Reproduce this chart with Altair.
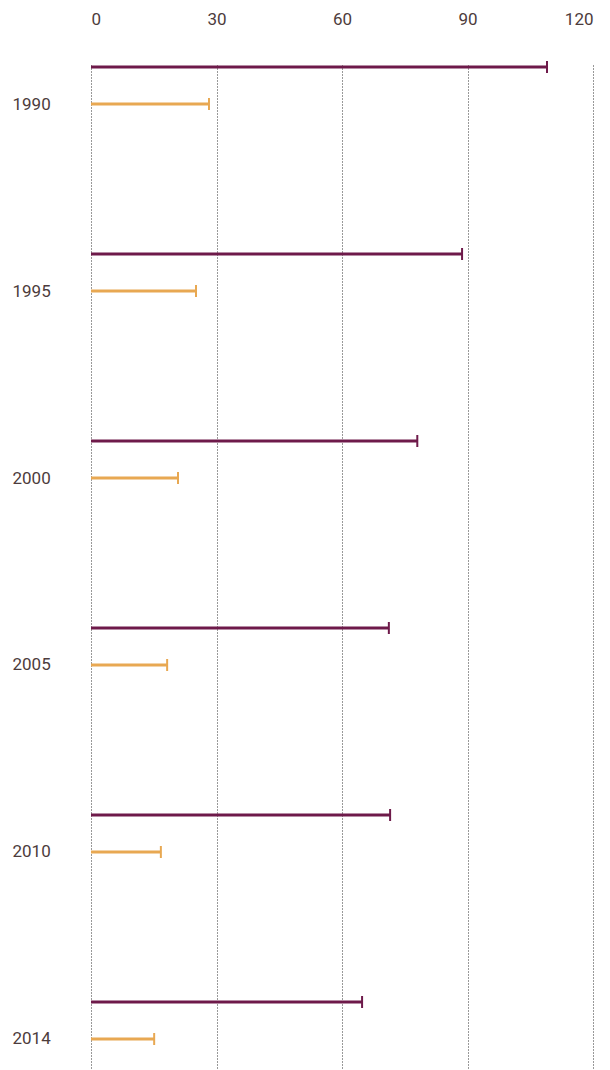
import altair as alt
import pandas as pd

years = ["1990", "1995", "2000", "2005", "2010", "2014"]
series_a = [109, 88.7, 78, 71.2, 71.5, 64.8]
series_b = [28.2, 25.1, 20.8, 18.2, 16.7, 15.1]
series_names = ["A", "B"]
colors = ["#6e1a4a", "#e8a852"]
x_ticks = [0, 30, 60, 90, 120]

rows = []
for y, a, b in zip(years, series_a, series_b):
    rows.append({"year": y, "series": "A", "value": a})
    rows.append({"year": y, "series": "B", "value": b})
df = pd.DataFrame(rows)

font = "Roboto"
label_color = "#4d3c3c"

y_enc = alt.Y("year:O", sort=years,
              scale=alt.Scale(type="point", padding=0.2086),
              axis=alt.Axis(title=None, domain=False, ticks=False, grid=False,
                            labelAlign="left", labelPadding=79, labelFontSize=17,
                            labelFont=font, labelColor=label_color))
yoff = alt.YOffset("series:N", scale=alt.Scale(domain=series_names, range=[-55.5, 18.5]))
col = alt.Color("series:N", scale=alt.Scale(domain=series_names, range=colors), legend=None)

base = alt.Chart(df)

rules = base.mark_rule(strokeWidth=3).encode(
    x=alt.X("value:Q", scale=alt.Scale(domain=[0, 120]),
            axis=alt.Axis(orient="top", title=None, values=x_ticks, domain=False, ticks=False,
                          grid=True, gridDash=[1, 2], gridColor="#333333", gridWidth=1,
                          labelPadding=37, labelFontSize=17, labelFont=font,
                          labelColor=label_color)),
    x2=alt.datum(0),
    y=y_enc,
    yOffset=yoff,
    color=col,
)

caps = base.mark_tick(thickness=2, size=12, opacity=1).encode(
    x=alt.X("value:Q"),
    y=alt.Y("year:O", sort=years),
    yOffset=yoff,
    color=col,
)

chart = alt.layer(rules, caps).properties(
    width=502, height=1013,
    padding={"left": 4, "top": 2, "right": 5, "bottom": 0},
).configure_view(stroke=None)

chart.save("out.html", embed_options={"renderer": "svg", "actions": False})
